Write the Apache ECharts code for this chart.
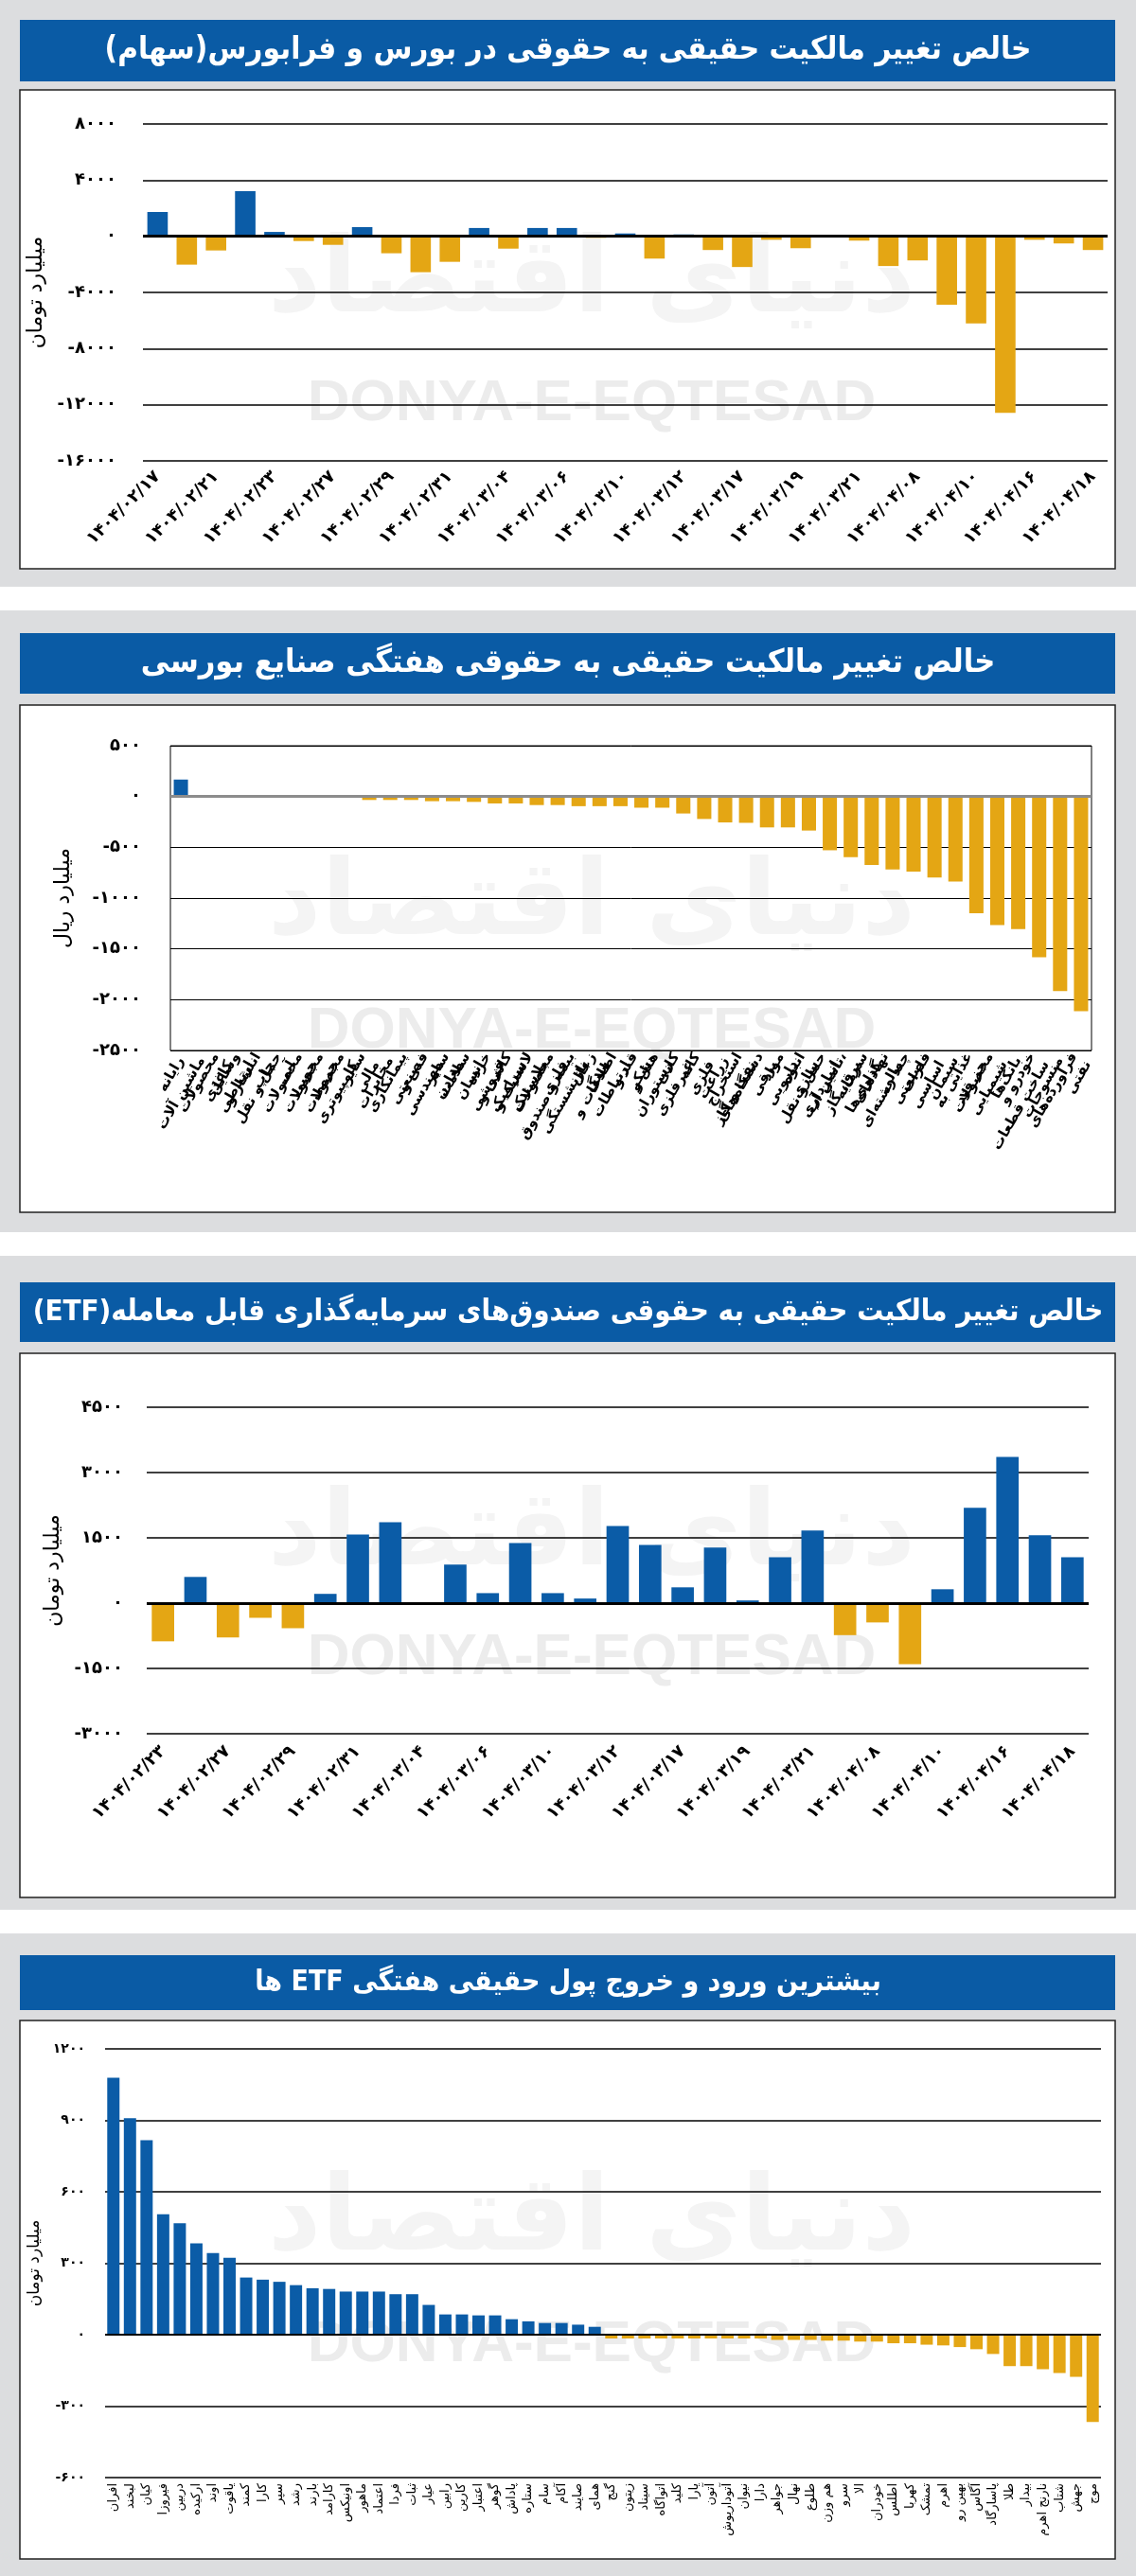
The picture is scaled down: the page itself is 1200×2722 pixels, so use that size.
<!DOCTYPE html>
<html><head><meta charset="utf-8">
<script src="https://cdn.jsdelivr.net/npm/echarts@6/dist/echarts.min.js"></script>
<style>html,body{margin:0;padding:0;background:#fff}#c{width:1200px;height:2722px}</style>
</head><body><div id="c"></div>
<script>
// ---------- DATA ----------
const stockDates = ['۱۴۰۴/۰۲/۱۷','۱۴۰۴/۰۲/۲۰','۱۴۰۴/۰۲/۲۱','۱۴۰۴/۰۲/۲۲','۱۴۰۴/۰۲/۲۳','۱۴۰۴/۰۲/۲۴','۱۴۰۴/۰۲/۲۷','۱۴۰۴/۰۲/۲۸','۱۴۰۴/۰۲/۲۹','۱۴۰۴/۰۲/۳۰','۱۴۰۴/۰۲/۳۱','۱۴۰۴/۰۳/۰۳','۱۴۰۴/۰۳/۰۴','۱۴۰۴/۰۳/۰۵','۱۴۰۴/۰۳/۰۶','۱۴۰۴/۰۳/۰۷','۱۴۰۴/۰۳/۱۰','۱۴۰۴/۰۳/۱۱','۱۴۰۴/۰۳/۱۲','۱۴۰۴/۰۳/۱۳','۱۴۰۴/۰۳/۱۷','۱۴۰۴/۰۳/۱۸','۱۴۰۴/۰۳/۱۹','۱۴۰۴/۰۳/۲۰','۱۴۰۴/۰۳/۲۱','۱۴۰۴/۰۴/۰۷','۱۴۰۴/۰۴/۰۸','۱۴۰۴/۰۴/۰۹','۱۴۰۴/۰۴/۱۰','۱۴۰۴/۰۴/۱۱','۱۴۰۴/۰۴/۱۶','۱۴۰۴/۰۴/۱۷','۱۴۰۴/۰۴/۱۸'];
const stockValues = [1730, -2020, -1010, 3210, 310, -340, -610, 650, -1210, -2560, -1820, 590, -880, 590, 590, -110, 200, -1590, 130, -980, -2190, -250, -850, 0, -310, -2120, -1720, -4870, -6210, -12580, -250, -510, -980];

const industryNames = ['رایانه','ماشین آلات','محصولات\nکاغذی','وسایل\nارتباطی','انتشار و\nچاپ','حمل و نقل\nآبی','محصولات\nچوبی','محصولات\nچرمی','محصولات\nکامپیوتری','سایر\nمالی','مخابرات','پیمانکاری\nصنعتی','فنی و\nمهندسی','سایر\nمعادن','سلامت\nانسان','خرده\nفروشی','کاشی و\nسرامیک','لاستیک و\nپلاستیک','محصولات\nفلزی','بیمه و صندوق\nبازنشستگی','زغال\nسنگ','اطلاعات و\nارتباطات','قند و\nشکر','هتل و\nرستوران','کانی\nغیرفلزی','کانه\nفلزی','زراعت','استخراج\nنفت و گاز','دستگاه‌های\nبرقی','مواد\nدارویی','انبوه\nسازی','حمل و نقل\nانبارداری','تامین آب،\nبرق، گاز','سرمایه\nگذاری‌ها','نهادهای\nمالی','چند رشته‌ای\nصنعتی','فلزات\nاساسی','سیمان','غذایی به\nجز قند','محصولات\nشیمیایی','بانک‌ها','خودرو و\nساخت قطعات','منسوجات','فرآورده‌های\nنفتی'];
const industryValues = [167, 15, 0, 0, 0, 0, 0, 0, 0, -34, -34, -34, -46, -46, -53, -68, -68, -84, -84, -95, -95, -95, -110, -110, -167, -221, -255, -259, -304, -304, -335, -529, -597, -673, -719, -738, -798, -837, -1148, -1266, -1304, -1582, -1916, -2114];

const etfDates = ['۱۴۰۴/۰۲/۲۳','۱۴۰۴/۰۲/۲۴','۱۴۰۴/۰۲/۲۷','۱۴۰۴/۰۲/۲۸','۱۴۰۴/۰۲/۲۹','۱۴۰۴/۰۲/۳۰','۱۴۰۴/۰۲/۳۱','۱۴۰۴/۰۳/۰۳','۱۴۰۴/۰۳/۰۴','۱۴۰۴/۰۳/۰۵','۱۴۰۴/۰۳/۰۶','۱۴۰۴/۰۳/۰۷','۱۴۰۴/۰۳/۱۰','۱۴۰۴/۰۳/۱۱','۱۴۰۴/۰۳/۱۲','۱۴۰۴/۰۳/۱۳','۱۴۰۴/۰۳/۱۷','۱۴۰۴/۰۳/۱۸','۱۴۰۴/۰۳/۱۹','۱۴۰۴/۰۳/۲۰','۱۴۰۴/۰۳/۲۱','۱۴۰۴/۰۴/۰۷','۱۴۰۴/۰۴/۰۸','۱۴۰۴/۰۴/۰۹','۱۴۰۴/۰۴/۱۰','۱۴۰۴/۰۴/۱۱','۱۴۰۴/۰۴/۱۶','۱۴۰۴/۰۴/۱۷','۱۴۰۴/۰۴/۱۸'];
const etfValues = [-877, 602, -789, -337, -576, 213, 1577, 1861, -35, 886, 230, 1382, 230, 106, 1772, 1338, 363, 1276, 62, 1054, 1666, -735, -443, -1400, 319, 2188, 3358, 1559, 1054];

const fundNames = ['افران','لبخند','کیان','فیروزا','دربین','ارکیده','اوند','یاقوت','کمند','کارا','سپر','رشد','بارند','کارامد','اونیکس','ماهور','اعتماد','فردا','ثبات','عیار','رابین','کارین','اعتبار','گوهر','پاداش','ستاره','سام','آکام','صایند','همای','گنج','زیتون','سیناد','اتواگاه','کلید','یارا','آتون','آتوداریوش','نیوان','دارا','جواهر','نهال','طلوع','هم وزن','سرو','الا','خودران','اطلس','کهربا','تمشک','اهرم','بهین رو','آگاس','پاسارگاد','طلا','بیدار','نارنج اهرم','شتاب','جهش','موج'];
const fundValues = [1079, 909, 817, 506, 468, 383, 343, 323, 240, 231, 222, 208, 195, 192, 181, 181, 181, 170, 170, 125, 85, 85, 81, 81, 65, 56, 49, 49, 42, 33, -16, -16, -16, -16, -16, -16, -16, -16, -16, -16, -22, -22, -22, -25, -25, -29, -29, -36, -36, -42, -45, -52, -61, -81, -132, -132, -145, -161, -177, -367];

const titles = ['خالص تغییر مالکیت حقیقی به حقوقی در بورس و فرابورس(سهام)','خالص تغییر مالکیت حقیقی به حقوقی هفتگی صنایع بورسی','خالص تغییر مالکیت حقیقی به حقوقی صندوق‌های سرمایه‌گذاری قابل معامله(ETF)','بیشترین ورود و خروج پول حقیقی هفتگی ETF ها'];
const unitNames = ['میلیارد تومان','میلیارد ریال','میلیارد تومان','میلیارد تومان'];

// ---------- STYLE ----------
const BLUE='#0b5ca7', ORANGE='#e4a614', TITLE_BG='#0a5ba5', BG='#dcdddf';
const FONT='DejaVu Sans';
const TITLE_FONT='"DejaVu Sans Condensed", "DejaVu Sans"';
const RLE='\u202B', PDF='\u202C';
const fa = s => String(s).replace(/[0-9]/g, d => '۰۱۲۳۴۵۶۷۸۹'[d]);
const yFmt = v => (v < 0 ? '-' : '') + fa(Math.abs(v));
const colorBy = p => p.value >= 0 ? BLUE : ORANGE;

const layout = [
  {bg:[0,620], bar:[21,86], box:[95,601], tw:998, wm:427, logo:300},
  {bg:[645,1302], bar:[669,733], box:[745,1281], tw:903, wm:1090, logo:958},
  {bg:[1327,2018], bar:[1355,1418], box:[1430,2005], tw:1132, wm:1752, logo:1624},
  {bg:[2043,2722], bar:[2066,2124], box:[2135,2704], tw:669, wm:2478, logo:2348}
];
const mctx = document.createElement('canvas').getContext('2d');
function fitSize(text, target) {
  mctx.font = 'bold 100px ' + TITLE_FONT;
  const w = mctx.measureText(text).width;
  return Math.min(40, Math.floor(100 * target / w));
}

const graphic = [];
layout.forEach((L, i) => {
  const t = RLE + titles[i] + PDF;
  const fs = fitSize(t, L.tw);
  graphic.push({type:'rect', z:-20, shape:{x:0, y:L.bg[0], width:1200, height:L.bg[1]-L.bg[0]}, style:{fill:BG}});
  graphic.push({type:'rect', z:-19, shape:{x:21, y:L.bar[0], width:1157, height:L.bar[1]-L.bar[0]}, style:{fill:TITLE_BG}});
  graphic.push({type:'text', z:-18, x:600, y:(L.bar[0]+L.bar[1])/2, style:{text:t, fill:'#fff', font:'bold '+fs+'px '+TITLE_FONT, align:'center', verticalAlign:'middle', textAlign:'center', textVerticalAlign:'middle'}});
  graphic.push({type:'rect', z:-19, shape:{x:21, y:L.box[0], width:1157, height:L.box[1]-L.box[0]}, style:{fill:'#fff', stroke:'#222', lineWidth:1.5}});
  graphic.push({type:'text', z:-17, x:625, y:L.logo, style:{text:'دنیای اقتصاد', fill:'#f4f4f4', font:'bold 110px "'+FONT+'"', align:'center', verticalAlign:'middle', textAlign:'center', textVerticalAlign:'middle'}});
  graphic.push({type:'text', z:-17, x:625, y:L.wm, style:{text:'DONYA-E-EQTESAD', fill:'#ececec', font:'bold 62px "Liberation Sans Narrow", "Liberation Sans"', align:'center', verticalAlign:'middle', textAlign:'center', textVerticalAlign:'middle'}});
});

function yAx(i, min, max, interval, nameGap, fs, margin, nameFs, splitW) {
  return {type:'value', gridIndex:i, min, max, interval,
    axisLine:{show:false}, axisTick:{show:false},
    splitLine:{lineStyle:{color:'#000', width:splitW}},
    axisLabel:{formatter:yFmt, color:'#000', fontSize:fs, fontWeight:'bold', margin, fontFamily:FONT},
    name:unitNames[i], nameLocation:'middle', nameRotate:90, nameGap,
    nameTextStyle:{fontSize:nameFs, color:'#000', fontFamily:FONT}};
}
function xAx(i, data, labelOpt) {
  return {type:'category', gridIndex:i, data,
    axisLine:{show:false}, axisTick:{show:false}, splitLine:{show:false},
    axisLabel:Object.assign({color:'#000', fontFamily:FONT}, labelOpt)};
}
function barS(i, data, bw, zc, zw) {
  return {type:'bar', xAxisIndex:i, yAxisIndex:i, data, barWidth:bw,
    itemStyle:{color:colorBy},
    markLine:{silent:true, symbol:['none','none'], label:{show:false},
      lineStyle:{color:zc, width:zw, type:'solid'}, data:[{yAxis:0}]}};
}

const option = {
  animation:false,
  textStyle:{fontFamily:FONT},
  graphic:{elements:graphic},
  grid:[
    {left:151, top:131, width:1019, height:356},
    {left:180, top:788, width:973, height:322, show:true, borderColor:'#000', borderWidth:1, backgroundColor:'transparent'},
    {left:155, top:1487, width:995, height:345},
    {left:111, top:2165, width:1052, height:453}
  ],
  xAxis:[
    xAx(0, stockDates, {rotate:45, interval:1, fontSize:18, fontWeight:'bold', margin:14}),
    xAx(1, industryNames, {rotate:60, interval:0, fontSize:15, fontWeight:'bold', margin:8, lineHeight:17}),
    xAx(2, etfDates, {rotate:45, interval:1, fontSize:18, fontWeight:'bold', margin:16}),
    xAx(3, fundNames, {rotate:90, interval:0, fontSize:13, margin:6})
  ],
  yAxis:[
    yAx(0, -16000, 8000, 4000, 98, 18, 28, 22, 1.5),
    yAx(1, -2500, 500, 500, 102, 18, 31, 22, 1),
    yAx(2, -3000, 4500, 1500, 84, 18, 25, 22, 1.5),
    yAx(3, -600, 1200, 300, 62, 14, 21, 17, 1.5)
  ],
  series:[
    barS(0, stockValues, '70%', '#000', 3),
    barS(1, industryValues, '68%', '#8c8c8c', 3),
    barS(2, etfValues, '69%', '#000', 3),
    barS(3, fundValues, '74%', '#000', 2)
  ]
};
const chart = echarts.init(document.getElementById('c'), null, {renderer:'canvas'});
chart.setOption(option);
</script></body></html>
